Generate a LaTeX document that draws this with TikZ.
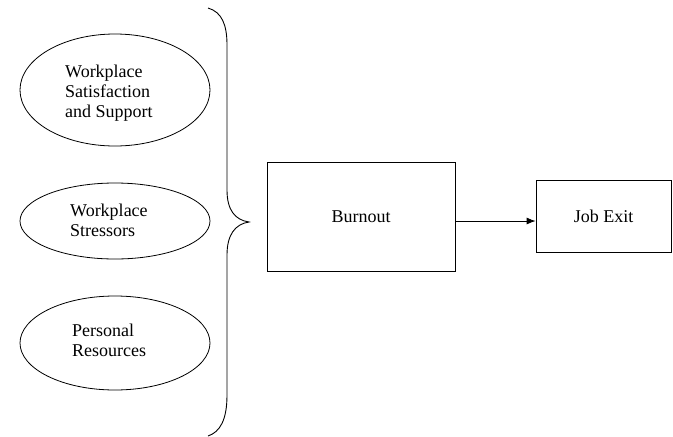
\documentclass[tikz,border=0pt]{standalone}
\usepackage{fontspec}
\setmainfont{Liberation Serif}
\usetikzlibrary{shapes.geometric,arrows.meta}
\begin{document}
\begin{tikzpicture}[x=1pt,y=-1pt,
  oval/.style={draw,ellipse,line width=0.8pt,inner sep=0pt},
  lbl/.style={anchor=west,align=left,font=\fontsize{18}{20}\selectfont,inner sep=0pt},
  boxnode/.style={draw,line width=0.8pt,inner sep=0pt},
  txt/.style={font=\fontsize{18}{20}\selectfont,inner sep=0pt}]
\useasboundingbox (0,0) rectangle (673,437);
% ellipses
\node[oval,minimum width=190pt,minimum height=112pt] (e1) at (115,90) {};
\node[oval,minimum width=190pt,minimum height=76pt] (e2) at (115,221) {};
\node[oval,minimum width=190pt,minimum height=94pt] (e3) at (115,343) {};
\node[lbl] (t1) at (65,93) {Workplace\\Satisfaction\\and Support};
\node[lbl] (t2) at (70,220.5) {Workplace\\Stressors};
\node[lbl] (t3) at (72,340) {Personal\\Resources};
% brace
\coordinate (btip) at (249,222);
\draw[line width=0.9pt] (208,8) .. controls (222,12) and (227,25) .. (227,45)
  -- (227,190) .. controls (227,210) and (235,220) .. (btip)
  .. controls (235,224) and (227,235) .. (227,255)
  -- (227,395) .. controls (227,420) and (220,432) .. (208,436);
% boxes
\node[boxnode,minimum width=188pt,minimum height=109pt] (burn) at (361,216.5) {};
\node[txt] (burnt) at (burn.center) {Burnout};
\node[boxnode,minimum width=135pt,minimum height=72pt] (exit) at (603.5,216) {};
\node[txt] (exitt) at (exit.center) {Job Exit};
\draw[line width=0.8pt,-{Latex[length=9pt,width=7pt]}] (burn.east |- 0,221) -- (exit.west |- 0,221);
\end{tikzpicture}
\end{document}
